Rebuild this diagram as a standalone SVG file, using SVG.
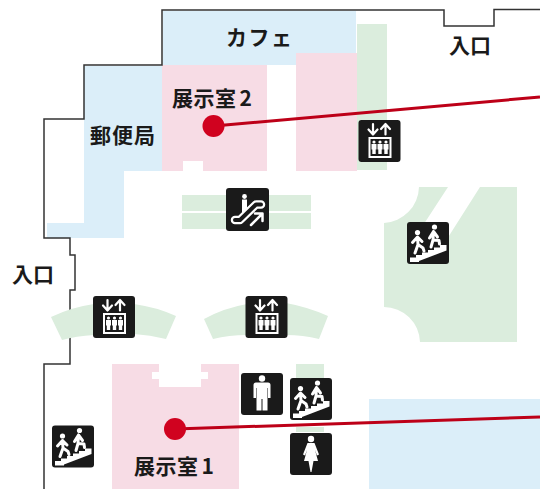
<svg xmlns="http://www.w3.org/2000/svg" width="540" height="489" viewBox="0 0 540 489">
<style>
.blue{fill:#dbeef9}.pink{fill:#f7dce5}.green{fill:#dbeddd}
.wall{fill:none;stroke:#333;stroke-width:1.5}
.red{fill:none;stroke:#bd0018;stroke-width:3}
.dot{fill:#d0021f}
.tile{fill:#1a1a1a}
.w{fill:#fff}
.ws{fill:none;stroke:#fff;stroke-linecap:round;stroke-linejoin:round}
text{font-family:"Noto Sans CJK JP","Liberation Sans",sans-serif;font-weight:700;font-size:21px;fill:#1a1a1a}
</style>
<defs>
<g id="elev">
<rect class="tile" width="42" height="42" rx="3"/>
<path class="ws" stroke-width="2.200" d="M14.500,4V14M10,9.500L14.500,14.500L19,9.500M27,14.500V4.500M22.500,9L27,4L31.500,9" stroke-linecap="butt"/>
<rect x="11" y="18" width="21" height="19" fill="none" stroke="#fff" stroke-width="2"/>
<g id="elevp"><circle class="w" cx="15.500" cy="22" r="1.600"/><path class="w" d="M13,24H18V29.500H17.200V34H13.800V29.500H13Z"/></g>
<use href="#elevp" x="6"/><use href="#elevp" x="12"/>
</g>
<g id="stairs">
<rect class="tile" width="42" height="42" rx="3"/>
<path class="w" d="M3,40V35.500H9V33H15V30.500H21V28H27V25.500H33V23H39.500V28.500L12,39V40Z"/>
<circle class="w" cx="10.500" cy="10.500" r="2.600"/>
<path class="ws" stroke-width="3" d="M10.500,15L11,22.500M10.500,15L5.500,20.500M10.500,15L15,19.500M11,22.500L8,31M11,22.500L16,26L17,29"/>
<circle class="w" cx="27.500" cy="5" r="2.600"/>
<path class="ws" stroke-width="3" d="M26.500,9.500L26,18M26.500,9.500L22.500,16M26.500,9.500L30.500,15M26,18L24,25M26,18L32,18.500L32.500,22"/>
</g>
</defs>
<g id="floorplan-fills">
<path id="cafe-area" class="blue" d="M163,11H356V53H296V65H163Z"/>
<path id="post-area" class="blue" d="M84,66H162V171H124V238H47V223H84Z"/>
<path id="room2-area" class="pink" d="M162,65H267V171H203V161H183V171H162Z"/>
<rect class="green" x="357" y="24" width="30" height="146"/>
<rect class="pink" x="296" y="53" width="61" height="118"/>
<rect id="blue-lower" class="blue" x="369" y="399" width="171" height="90"/>
<path id="room1-area" class="pink" d="M112,364H159V372H152V379H159V387H201V379H208V372H201V364H239V489H112Z"/>
<rect class="green" x="182" y="195" width="129" height="16"/>
<rect class="green" x="182" y="213" width="129" height="16"/>
<path class="green" d="M419,187H448L420,230L440,250L480,187H517V342H420A36,36 0 0 0 384,307V223A37,37 0 0 0 419,187Z"/>
<rect class="green" x="296" y="364" width="28" height="14"/>
<rect class="green" x="296" y="427" width="28" height="5"/>
</g>
<g id="walls">
<path class="wall" d="M540,9.500H494V26H444V10H162V65H84V119H44V238H70V255H75V290H70V364H44V489"/>
</g>
<g id="elevator-wings">
<path class="green" d="M51,317Q72,307 94,304V335Q76,336 62,340Z"/>
<path class="green" d="M134,304Q156,307 176,316L166,339Q150,335 134,334Z"/>
<path class="green" d="M204,319Q224,308 247,304V335Q229,335 213,339Z"/>
<path class="green" d="M286,303Q308,307 328,316L319,339Q303,335 286,335Z"/>
</g>
<g id="connectors">
<path class="red" d="M214,126L540,97"/>
<path class="red" d="M175,429L540,417"/>
</g>
<g id="dot-room2"><circle class="dot" cx="213.500" cy="126" r="11"/></g>
<g id="dot-room1"><circle class="dot" cx="175" cy="429" r="11"/></g>
<g id="label-cafe"><text x="226" y="45" letter-spacing="1.500">カフェ</text></g>
<g id="label-post"><text x="90" y="142.500" letter-spacing="1">郵便局</text></g>
<g id="label-room2"><text x="172" y="106" letter-spacing="0.500">展示室<tspan dx="3">2</tspan></text></g>
<g id="label-room1"><text x="134" y="473.500" letter-spacing="0.500">展示室<tspan dx="3">1</tspan></text></g>
<g id="label-entrance-top"><text x="449" y="52.500">入口</text></g>
<g id="label-entrance-left"><text x="12" y="281.500">入口</text></g>
<g id="icon-escalator" transform="translate(226,188)">
<rect class="tile" width="43" height="43" rx="3"/>
<circle class="w" cx="18.500" cy="8.500" r="2.400"/>
<path class="w" d="M16,11.500H21V20L16,25Z"/>
<path class="ws" stroke-width="8.500" d="M9,32H14L30,16.500H35"/>
<path stroke="#1a1a1a" fill="none" stroke-width="4" stroke-linecap="round" stroke-linejoin="round" d="M9,32H14L30,16.500H35"/>
<path class="ws" stroke-width="2.500" d="M25,37L36,26M29,25.500H36.500V33"/>
</g>
<g id="icon-elevator-top"><use href="#elev" x="358.500" y="120"/></g>
<g id="icon-elevator-left"><use href="#elev" x="93" y="296"/></g>
<g id="icon-elevator-mid"><use href="#elev" x="245.500" y="296"/></g>
<g id="icon-stairs-right"><use href="#stairs" x="407" y="222"/></g>
<g id="icon-stairs-left"><use href="#stairs" x="52" y="425.500"/></g>
<g id="icon-stairs-mid"><use href="#stairs" x="290" y="378"/></g>
<g id="icon-men" transform="translate(241,373)">
<rect class="tile" width="42" height="42" rx="3"/>
<circle class="w" cx="21" cy="5.500" r="3.200"/>
<path class="w" d="M15,9.500H27Q29.500,9.500 29.500,12V25H27V15H26.500V37.500H21.500V26H20.500V37.500H15.500V15H15V25H12.500V12Q12.500,9.500 15,9.500Z"/>
</g>
<g id="icon-women" transform="translate(290,433)">
<rect class="tile" width="42" height="42" rx="3"/>
<circle class="w" cx="21" cy="6" r="3.200"/>
<path class="w" d="M17.500,10H24.500L29,21.500L27,22.500L25,17L28,28H23.500L21.500,39H20.500L18.500,28H14L17,17L15,22.500L13,21.500Z"/>
</g>
</svg>
